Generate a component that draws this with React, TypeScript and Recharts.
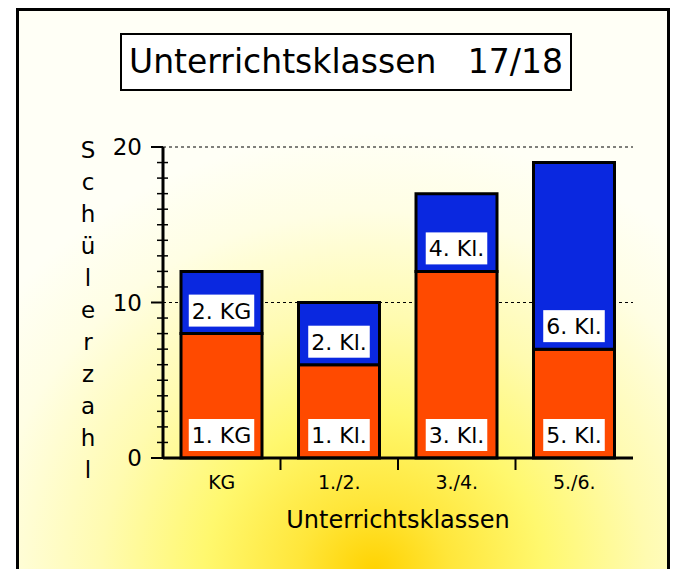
import React from 'react';
import { BarChart, Bar, XAxis, YAxis, CartesianGrid, LabelList } from 'recharts';

const categories = ['KG', '1./2.', '3./4.', '5./6.'];
const lowerValues = [8, 6, 12, 7];
const upperValues = [4, 4, 5, 12];
const lowerLabels = ['1. KG', '1. Kl.', '3. Kl.', '5. Kl.'];
const upperLabels = ['2. KG', '2. Kl.', '4. Kl.', '6. Kl.'];
const yTicks = [0, 1, 2, 3, 4, 5, 6, 7, 8, 9, 10, 11, 12, 13, 14, 15, 16, 17, 18, 19, 20];
const yLabelTicks = [0, 10, 20];
const yTitle = 'Schülerzahl';

const W = 681;
const H = 569;
const PLOT_LEFT = 163;
const PLOT_RIGHT = 633;
const PLOT_TOP = 147;
const PLOT_BOTTOM = 458;
const FONT = '"DejaVu Sans", sans-serif';

const data = categories.map((name, i) => ({
  name,
  lower: lowerValues[i],
  upper: upperValues[i],
  lowerLabel: lowerLabels[i],
  upperLabel: upperLabels[i],
}));

// rough glyph widths (em) for DejaVu Sans, for sizing the white label boxes
const charW: Record<string, number> = { '.': 0.318, ' ': 0.318, K: 0.656, G: 0.775, l: 0.278 };
const textWidth = (s: string, size: number) =>
  s.split('').reduce((sum, c) => sum + (charW[c] ?? 0.636), 0) * size;

const SegmentLabel = (props: any) => {
  const { x, y, width, height, value } = props;
  const w = textWidth(String(value), 22) + 6;
  const bottom = y + height - 7;
  const cx = x + width / 2;
  return (
    <g>
      <rect x={cx - w / 2} y={bottom - 32} width={w} height={32} fill="#fff" />
      <text x={cx} y={bottom - 8} textAnchor="middle" fontFamily={FONT} fontSize={22} fill="#000">
        {value}
      </text>
    </g>
  );
};

const YTick = (props: any) => {
  const { y, payload } = props;
  const major = yLabelTicks.includes(payload.value);
  return (
    <g>
      {major ? (
        <line x1={PLOT_LEFT - 12} x2={PLOT_LEFT} y1={y} y2={y} stroke="#000" strokeWidth={2} />
      ) : (
        <line x1={PLOT_LEFT - 6} x2={PLOT_LEFT + 5} y1={y} y2={y} stroke="#000" strokeWidth={1.5} />
      )}
      {major && (
        <text x={142} y={y + 8} textAnchor="end" fontFamily={FONT} fontSize={23} fill="#000">
          {payload.value}
        </text>
      )}
    </g>
  );
};

const band = (PLOT_RIGHT - PLOT_LEFT) / categories.length;

const XTick = (props: any) => {
  const { x, payload, index } = props;
  return (
    <g>
      {index < categories.length - 1 && (
        <line x1={x + band / 2} x2={x + band / 2} y1={PLOT_BOTTOM} y2={PLOT_BOTTOM + 12} stroke="#000" strokeWidth={2} />
      )}
      <text x={x} y={PLOT_BOTTOM + 31} textAnchor="middle" fontFamily={FONT} fontSize={19} fill="#000">
        {payload.value}
      </text>
    </g>
  );
};

export default function App() {
  return (
    <div style={{ position: 'absolute', left: 0, top: 0, width: W, height: H, overflow: 'hidden', background: '#fff' }}>
      <div
        style={{
          position: 'absolute',
          left: 16,
          top: 8,
          width: 648,
          height: 600,
          border: '3px solid #000',
          background:
            'radial-gradient(ellipse 470px 440px at 355px 561px, #FFD200 0%, #FFE63A 16%, #FFF86E 36%, #FFFBB0 58%, #FFFEE4 82%, #FFFFF6 100%)',
        }}
      />
      <div
        style={{
          position: 'absolute',
          left: 120,
          top: 33,
          width: 448,
          height: 54,
          border: '2px solid #000',
          background: '#fff',
          fontFamily: FONT,
          fontSize: 33,
          lineHeight: '54px',
          textAlign: 'center',
          whiteSpace: 'pre',
          color: '#000',
        }}
      >
        {'Unterrichtsklassen   17/18'}
      </div>
      <div
        style={{
          position: 'absolute',
          left: 72,
          top: 134,
          width: 32,
          fontFamily: FONT,
          fontSize: 23,
          lineHeight: '32px',
          textAlign: 'center',
          color: '#000',
        }}
      >
        {yTitle.split('').map((c, i) => (
          <div key={i}>{c}</div>
        ))}
      </div>
      <div style={{ position: 'absolute', left: 0, top: 0 }}>
        <BarChart
          width={W}
          height={H}
          data={data}
          margin={{ top: PLOT_TOP, right: W - PLOT_RIGHT, bottom: 31, left: 0 }}
          barSize={81}
        >
          <CartesianGrid horizontal vertical={false} horizontalValues={[10, 20]} stroke="#000" strokeDasharray="3 3" strokeWidth={1} />
          <XAxis
            dataKey="name"
            height={H - PLOT_BOTTOM - 31}
            axisLine={{ stroke: '#000', strokeWidth: 3 }}
            tickLine={false}
            tick={<XTick />}
            interval={0}
            label={{ value: 'Unterrichtsklassen', position: 'insideBottom', offset: 10, fontFamily: FONT, fontSize: 24, fill: '#000' }}
          />
          <YAxis
            width={PLOT_LEFT}
            domain={[0, 20]}
            ticks={yTicks}
            interval={0}
            axisLine={{ stroke: '#000', strokeWidth: 3 }}
            tickLine={false}
            tick={<YTick />}
          />
          <Bar dataKey="lower" stackId="a" fill="#FF4A00" stroke="#000" strokeWidth={3} isAnimationActive={false}>
            <LabelList dataKey="lowerLabel" content={<SegmentLabel />} />
          </Bar>
          <Bar dataKey="upper" stackId="a" fill="#0A28E0" stroke="#000" strokeWidth={3} isAnimationActive={false}>
            <LabelList dataKey="upperLabel" content={<SegmentLabel />} />
          </Bar>
        </BarChart>
      </div>
    </div>
  );
}
